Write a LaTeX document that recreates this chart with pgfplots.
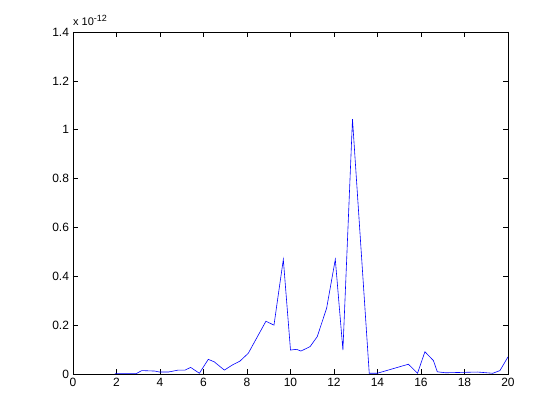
\documentclass[border=0pt]{standalone}
\usepackage{pgfplots}
\pgfplotsset{compat=1.18}
\usepackage{fontspec}
\setmainfont{Liberation Sans}
\begin{document}
\begin{tikzpicture}
\begin{axis}[
  name=ax,
  scale only axis,
  width=435pt, height=342pt,
  xmin=0, xmax=20, ymin=0, ymax=1.4,
  xtick={0,2,...,20},
  ytick={0,0.2,...,1.4},
  yticklabels={0,0.2,0.4,0.6,0.8,1,1.2,1.4},
  tick align=inside,
  major tick length=5pt,
  axis line style={black, line width=0.5pt},
  every tick/.style={black, line width=0.5pt},
  tick label style={font=\fontsize{12}{14}\selectfont},
  /pgf/number format/assume math mode=true,
  xticklabel style={yshift=-0.5pt},
  yticklabel style={xshift=-0.5pt},
]
\addplot[color={rgb,255:red,0;green,0;blue,255}, line width=0.6pt, mark=none] coordinates {
(1.92,0.001)
(2.9,0.001)
(3.16,0.014)
(3.77,0.012)
(3.97,0.008)
(4.38,0.008)
(4.84,0.016)
(5.15,0.016)
(5.41,0.027)
(5.81,0.003)
(6.22,0.06)
(6.49,0.05)
(6.96,0.016)
(7.33,0.037)
(7.68,0.053)
(8.06,0.085)
(8.4,0.14)
(8.87,0.216)
(9.24,0.2)
(9.67,0.469)
(10.0,0.098)
(10.28,0.101)
(10.48,0.094)
(10.9,0.112)
(11.23,0.153)
(11.66,0.269)
(12.06,0.469)
(12.41,0.098)
(12.85,1.043)
(13.62,0.003)
(13.99,0.003)
(15.42,0.04)
(15.84,0.003)
(16.18,0.091)
(16.57,0.055)
(16.75,0.009)
(17.13,0.005)
(18.6,0.008)
(19.3,0.003)
(19.63,0.014)
(20,0.07)
};
\end{axis}
\node[anchor=south west, inner sep=0pt, font=\fontsize{11}{13}\selectfont] at ([yshift=6pt]ax.north west) {x 10\textsuperscript{\fontsize{9}{10}\selectfont -12}};
\path[use as bounding box] (-73pt,-46pt) rectangle (487pt,374pt);
\end{tikzpicture}
\end{document}
